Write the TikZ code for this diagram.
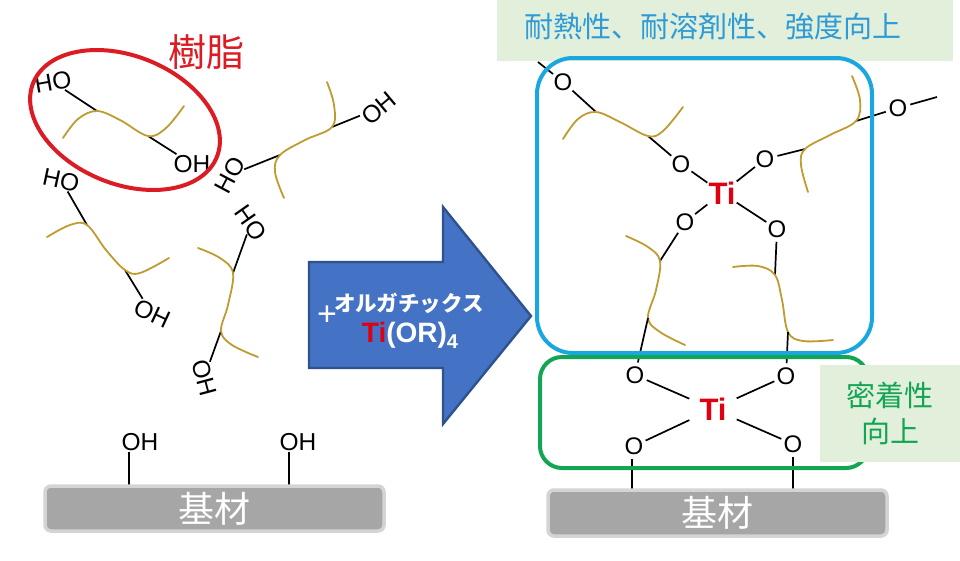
\documentclass[tikz,border=0pt]{standalone}
\usepackage{fontspec}
\setmainfont{Liberation Sans}
\newfontfamily\cjk{Noto Sans CJK JP}
\usetikzlibrary{shapes.geometric}
\definecolor{resincol}{HTML}{BF9B30}
\definecolor{ringred}{HTML}{DC1C24}
\definecolor{tired}{HTML}{E00012}
\definecolor{arrowfill}{HTML}{4472C4}
\definecolor{arrowline}{HTML}{2F528F}
\definecolor{heatblue}{HTML}{1AA7E0}
\definecolor{heattext}{HTML}{2E9BD6}
\definecolor{bondgreen}{HTML}{13A454}
\definecolor{notepale}{HTML}{E2EFDA}
\definecolor{basefill}{HTML}{A6A6A6}
\definecolor{baseline}{HTML}{D4D4D4}

\begin{document}
\begin{tikzpicture}[x=1pt,y=-1pt,
      bond/.style={line width=1.7pt,color=black},
      resin/.style={line width=1.8pt,color=resincol,line cap=round},
      chemlabel/.style={inner sep=1pt,font=\fontsize{24.5}{26}\selectfont},
      oxy/.style={circle,inner sep=0pt,minimum size=24pt,font=\fontsize{24}{25}\selectfont},
      metal/.style={inner sep=1pt,text=tired,font=\bfseries\fontsize{31}{33}\selectfont},
      basebox/.style={draw=baseline,fill=basefill,line width=3.5pt,rounded corners=6pt,text=white,font=\cjk\fontsize{36}{38}\selectfont,inner sep=0pt},
      notebox/.style={fill=notepale,inner sep=0pt,align=center,font=\cjk\fontsize{29}{36}\selectfont}
    ]
      \useasboundingbox (0,0) rectangle (960,560);
      \fill[white] (0,0) rectangle (960,560);

      \node[chemlabel,rotate=10] (hoa) at (53,82) {HO};
      \node[chemlabel] (oha) at (192,164) {OH};
      \coordinate (ra1) at (97,111);
      \coordinate (ra2) at (148,136);
      \draw[bond] (hoa) -- (ra1);
      \draw[bond] (oha) -- (ra2);
      \draw[resin] plot[smooth,tension=0.6] coordinates {(63,138) (78,119) (97,111) (120,120) (148,136) (166,128) (184,106)};

      \node[chemlabel,rotate=40] (ohb) at (379,108) {OH};
      \node[chemlabel,rotate=62] (hob) at (230,175) {HO};
      \coordinate (rb1) at (332,127);
      \coordinate (rb2) at (280,155);
      \draw[bond] (ohb) -- (rb1);
      \draw[bond] (hob) -- (rb2);
      \draw[resin] plot[smooth,tension=0.6] coordinates {(327,82) (334,105) (332,127) (305,140) (280,155) (275,172) (284,198)};

      \node[chemlabel,rotate=-12] (hoc) at (61,180) {HO};
      \node[chemlabel,rotate=-25] (ohc) at (152,314) {OH};
      \coordinate (rc1) at (87,225);
      \coordinate (rc2) at (125,270);
      \draw[bond] (hoc) -- (rc1);
      \draw[bond] (ohc) -- (rc2);
      \draw[resin] plot[smooth,tension=0.6] coordinates {(47,237) (70,225) (87,225) (106,250) (125,270) (140,273) (169,258)};

      \node[chemlabel,rotate=-55] (hod) at (251,223) {HO};
      \node[chemlabel,rotate=-75] (ohd) at (204,378) {OH};
      \coordinate (rd1) at (233,273);
      \coordinate (rd2) at (221,331);
      \draw[bond] (hod) -- (rd1);
      \draw[bond] (ohd) -- (rd2);
      \draw[resin] plot[smooth,tension=0.6] coordinates {(198,248) (220,258) (233,273) (228,305) (221,331) (232,345) (258,357)};

      \node[ellipse,draw=ringred,line width=4pt,inner sep=0pt,minimum width=198pt,minimum height=128pt,rotate=-22] (ring) at (125,120) {};
      \node[text=ringred,font=\cjk\fontsize{38}{40}\selectfont,inner sep=0pt] (ringlabel) at (206,52) {樹脂};

      \node[chemlabel] (ohe) at (140,442) {OH};
      \node[chemlabel] (ohf) at (298,442) {OH};
      \coordinate (se) at (129,485);
      \coordinate (sf) at (289,485);
      \draw[bond] (se |- ohe.south) -- (se);
      \draw[bond] (sf |- ohf.south) -- (sf);
      \node[basebox,minimum width=339pt,minimum height=45pt] (baseleft) at (214.5,508.5) {基材};

      \draw[fill=arrowfill,draw=arrowline,line width=2.4pt,line join=miter] (309,262) -- (443,262) -- (443,207) -- (531,316) -- (443,424) -- (443,368) -- (309,368) -- cycle;
      \node[text=white,inner sep=0pt,font=\fontsize{34}{36}\selectfont] (plus) at (327,316) {+};
      \node[text=white,inner sep=0pt,font=\cjk\bfseries\fontsize{21.5}{24}\selectfont] (orgname) at (409,303) {オルガチックス};
      \node[text=white,inner sep=0pt,font=\bfseries\fontsize{28}{30}\selectfont] (formula) at (410,335) {\textcolor{tired}{Ti}(OR)\raisebox{-0.22em}{\fontsize{20}{22}\selectfont 4}};

      \node[notebox,minimum width=456pt,minimum height=61pt] (heatnote) at (725,30.5) {};
      \node[inner sep=0pt,text=heattext,font=\cjk\fontsize{29}{32}\selectfont] (heattxt) at (713,27) {耐熱性、耐溶剤性、強度向上};

      \node[metal] (tiup) at (722,193) {Ti};
      \node[oxy] (oa) at (563,82) {O};
      \node[oxy] (ob) at (681,164) {O};
      \node[oxy] (oc) at (765,159) {O};
      \node[oxy] (od) at (898,108) {O};
      \node[oxy] (oe) at (685,222) {O};
      \node[oxy] (of) at (777,229) {O};
      \coordinate (freea) at (538,62);
      \coordinate (freeb) at (937,97);
      \coordinate (ra) at (596,112);
      \coordinate (rb) at (648,136);
      \coordinate (rf) at (805,149);
      \coordinate (rg) at (856,121);
      \coordinate (rh) at (660,261);
      \coordinate (ri) at (648,318);
      \coordinate (rj) at (775,275);
      \coordinate (rk) at (788,332);
      \draw[bond] (freea) -- (oa);
      \draw[bond] (oa) -- (ra);
      \draw[bond] (rb) -- (ob);
      \draw[bond] (ob) -- (tiup);
      \draw[bond] (tiup) -- (oc);
      \draw[bond] (oc) -- (rf);
      \draw[bond] (rg) -- (od);
      \draw[bond] (od) -- (freeb);
      \draw[bond] (tiup) -- (oe);
      \draw[bond] (oe) -- (rh);
      \draw[bond] (tiup) -- (of);
      \draw[bond] (of) -- (rj);
      \draw[resin] plot[smooth,tension=0.6] coordinates {(563,139) (578,119) (596,112) (620,122) (648,136) (663,131) (683,107)};
      \draw[resin] plot[smooth,tension=0.6] coordinates {(852,76) (860,100) (856,121) (830,135) (805,149) (801,165) (808,192)};
      \draw[resin] plot[smooth,tension=0.6] coordinates {(626,236) (648,247) (660,261) (656,290) (648,318) (660,332) (685,345)};
      \draw[resin] plot[smooth,tension=0.6] coordinates {(733,267) (758,266) (775,275) (782,300) (788,332) (803,341) (833,340)};

      \node[metal,inner xsep=10pt,inner ysep=4pt] (tilow) at (713,409) {Ti};
      \node[oxy] (og) at (635,375) {O};
      \node[oxy] (oh) at (786,376) {O};
      \node[oxy] (oi) at (634,446) {O};
      \node[oxy] (oj) at (793,444) {O};
      \coordinate (sg) at (632,489);
      \coordinate (sh) at (793,491);
      \draw[bond] (ri) -- (og);
      \draw[bond] (rk) -- (oh);
      \draw[bond] (og) -- (tilow);
      \draw[bond] (oh) -- (tilow);
      \draw[bond] (oi) -- (tilow);
      \draw[bond] (oj) -- (tilow);
      \draw[bond] (sg |- oi.south) -- (sg);
      \draw[bond] (sh |- oj.south) -- (sh);

      \node[draw=bondgreen,line width=4pt,rounded corners=22pt,minimum width=328pt,minimum height=111pt] (stickframe) at (704,412.5) {};
      \node[draw=heatblue,line width=4pt,rounded corners=36pt,minimum width=335pt,minimum height=295pt] (heatframe) at (704.5,205.5) {};
      \node[notebox,minimum width=140pt,minimum height=97pt,text=bondgreen] (sticknote) at (890,413.5) {密着性\\向上};
      \node[basebox,minimum width=339pt,minimum height=46pt] (baseright) at (717.5,513) {基材};
    \end{tikzpicture}
\end{document}
